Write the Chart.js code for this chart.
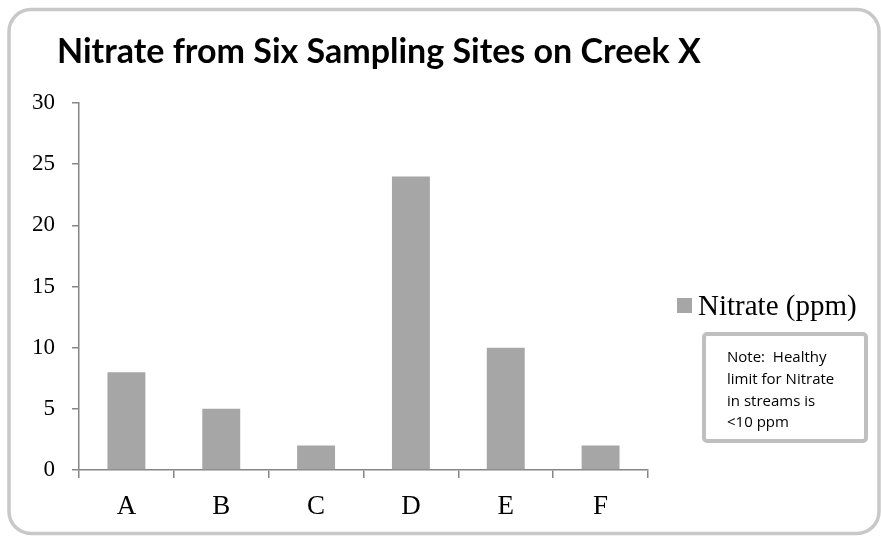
<!DOCTYPE html>
<html>
<head>
<meta charset="utf-8">
<script src="https://cdn.jsdelivr.net/npm/chart.js@4"></script>
<style>
  html, body { margin: 0; padding: 0; background: #fff; }
  #nitrateChart { display: block; }
</style>
</head>
<body>
<canvas id="nitrateChart" width="881" height="536"></canvas>
<script>
// Datos
const sites = ['A', 'B', 'C', 'D', 'E', 'F'];
const nitrateValues = [8, 5, 2, 24, 10, 2];
const seriesLabel = 'Nitrate (ppm)';
const chartTitle = 'Nitrate from Six Sampling Sites on Creek X';
const noteLines = ['Note:  Healthy', 'limit for Nitrate', 'in streams is', '<10 ppm'];
const yTickMin = 0, yTickMax = 30, yTickStep = 5;

const barColor = '#a6a6a6';
const axisColor = '#868686';
const frameColor = '#c8c8c8';

// Marco, título, leyenda y nota dibujados alrededor del área del gráfico
const decorPlugin = {
    id: 'decor',
    beforeDraw(chart) {
        const c = chart.ctx;
        c.save();
        c.fillStyle = '#fff';
        c.fillRect(0, 0, chart.width, chart.height);
        c.strokeStyle = frameColor;
        c.lineWidth = 3.5;
        c.beginPath();
        c.roundRect(9, 9.5, 870, 524, 22);
        c.stroke();
        c.restore();
    },
    afterDraw(chart) {
        const c = chart.ctx;
        c.save();
        // título
        c.fillStyle = '#000';
        c.font = 'bold 34px Lato';
        c.textBaseline = 'alphabetic';
        c.textAlign = 'left';
        c.fillText(chartTitle, 57, 63);

        // leyenda
        const ds = chart.data.datasets[0];
        c.fillStyle = ds.backgroundColor;
        c.fillRect(677, 298, 15, 15);
        c.fillStyle = '#000';
        c.font = '29px "Liberation Serif"';
        c.fillText(ds.label, 698, 315);

        // cuadro de nota
        c.strokeStyle = '#bfbfbf';
        c.lineWidth = 4;
        c.beginPath();
        c.roundRect(704, 334, 162, 107, 3);
        c.stroke();
        c.fillStyle = '#000';
        c.font = '15px "Open Sans"';
        const baselines = [362, 384, 405.5, 427];
        noteLines.forEach((line, i) => c.fillText(line, 727, baselines[i]));
        c.restore();
    }
};

const ctx = document.getElementById('nitrateChart').getContext('2d');
const myChart = new Chart(ctx, {
    type: 'bar',
    data: {
        labels: sites,
        datasets: [{
            label: seriesLabel,
            data: nitrateValues,
            backgroundColor: barColor,
            borderWidth: 0,
            barPercentage: 0.4,
            categoryPercentage: 1
        }]
    },
    options: {
        responsive: false,
        animation: false,
        layout: { padding: { left: 0, right: 233, top: 103, bottom: 0 } },
        plugins: {
            legend: { display: false },
            title: { display: false },
            tooltip: { enabled: false }
        },
        scales: {
            x: {
                grid: { display: true, drawOnChartArea: false, offset: true, tickLength: 8, color: axisColor, lineWidth: 1.5 },
                border: { color: axisColor, width: 1.5 },
                ticks: { color: '#000', font: { family: 'Liberation Serif', size: 27 }, padding: 13 },
                afterFit(scale) { scale.height = 66; }
            },
            y: {
                min: yTickMin,
                max: yTickMax,
                grid: { display: true, drawOnChartArea: false, tickLength: 7, color: axisColor, lineWidth: 1.5 },
                border: { color: axisColor, width: 1.5 },
                ticks: { stepSize: yTickStep, color: '#000', font: { family: 'Liberation Serif', size: 23 }, padding: 17 },
                afterFit(scale) { scale.width = 79; }
            }
        }
    },
    plugins: [decorPlugin]
});
</script>
</body>
</html>
